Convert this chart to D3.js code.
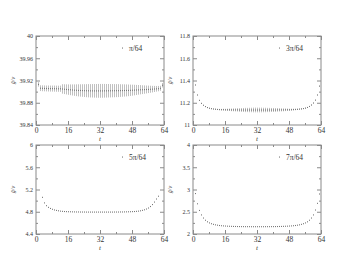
<!DOCTYPE html>
<html>
<head>
<meta charset="utf-8">
<script src="https://cdn.jsdelivr.net/npm/d3@7"></script>
<style>
  body { margin: 0; background: #fff; }
  svg text { font-family: "Liberation Serif", "DejaVu Serif", serif; fill: #333; }
</style>
</head>
<body>
<div id="chart"></div>
<script>
// t values
var tAll = d3.range(1, 64);
var tMid = d3.range(3, 62);

// pi/64 : centre and error (t = 1..63)
var c1 = [39.913, 39.9062, 39.906, 39.9058, 39.9057, 39.9056, 39.9055, 39.9055, 39.9054, 39.9053, 39.9052, 39.9052,
  39.9048, 39.9044, 39.9040, 39.9036, 39.9033, 39.9030, 39.9027, 39.9025, 39.9023, 39.9021, 39.9020, 39.9018,
  39.9017, 39.9016, 39.9015, 39.9015, 39.9014, 39.9014, 39.9014, 39.9014, 39.9014, 39.9015, 39.9015, 39.9016,
  39.9016, 39.9017, 39.9017, 39.9018, 39.9018, 39.9019, 39.9020, 39.9021, 39.9022, 39.9023, 39.9024, 39.9026,
  39.9028, 39.9030, 39.9032, 39.9034, 39.9035, 39.9037, 39.9039, 39.9041, 39.9043, 39.9045, 39.9048, 39.9051,
  39.9054, 39.9060, 39.9115];
var e1 = [0.004, 0.0052, 0.0053, 0.0053, 0.0053, 0.0054, 0.0054, 0.0054, 0.0055, 0.0055, 0.0055, 0.0056,
  0.0085, 0.0088, 0.0091, 0.0094, 0.0097, 0.0100, 0.0103, 0.0106, 0.0109, 0.0111, 0.0113, 0.0115,
  0.0117, 0.0119, 0.0120, 0.0121, 0.0122, 0.0123, 0.0124, 0.0124, 0.0124, 0.0123, 0.0122, 0.0121,
  0.0120, 0.0119, 0.0118, 0.0117, 0.0116, 0.0114, 0.0112, 0.0110, 0.0108, 0.0105, 0.0102, 0.0099,
  0.0095, 0.0091, 0.0087, 0.0083, 0.0079, 0.0075, 0.0071, 0.0067, 0.0063, 0.0059, 0.0055, 0.0051,
  0.0048, 0.0045, 0.004];

// 3pi/64 (t = 1..63)
var v2 = [11.36, 11.27, 11.222, 11.195, 11.178, 11.166, 11.157, 11.151, 11.147, 11.144, 11.142, 11.140,
  11.139, 11.138, 11.138, 11.137, 11.137, 11.137, 11.136, 11.136, 11.136, 11.136, 11.135, 11.135,
  11.135, 11.135, 11.135, 11.135, 11.135, 11.135, 11.135, 11.135, 11.135, 11.135, 11.135, 11.135,
  11.135, 11.135, 11.135, 11.135, 11.135, 11.136, 11.136, 11.136, 11.136, 11.137, 11.137, 11.137,
  11.138, 11.139, 11.140, 11.141, 11.143, 11.145, 11.148, 11.152, 11.158, 11.167, 11.180, 11.198,
  11.224, 11.27, 11.35];
var e2 = [0.002, 0.002, 0.002, 0.002, 0.002, 0.003, 0.003, 0.003, 0.004, 0.004, 0.005, 0.005,
  0.006, 0.007, 0.008, 0.009, 0.010, 0.011, 0.012, 0.013, 0.014, 0.015, 0.016, 0.017,
  0.018, 0.019, 0.019, 0.020, 0.020, 0.021, 0.021, 0.021, 0.021, 0.021, 0.020, 0.020,
  0.019, 0.019, 0.018, 0.018, 0.017, 0.016, 0.015, 0.014, 0.013, 0.012, 0.011, 0.010,
  0.009, 0.008, 0.007, 0.006, 0.005, 0.005, 0.004, 0.004, 0.003, 0.003, 0.003, 0.002,
  0.002, 0.002, 0.002];

// 5pi/64 (t = 3..61)
var v3 = [5.06, 4.96, 4.91, 4.88, 4.86, 4.845, 4.833, 4.825, 4.818, 4.812, 4.808, 4.805, 4.803, 4.801,
  4.800, 4.799, 4.798, 4.797, 4.797, 4.796, 4.796, 4.796, 4.795, 4.795, 4.795, 4.795, 4.795, 4.795,
  4.795, 4.795, 4.795, 4.795, 4.795, 4.795, 4.795, 4.795, 4.796, 4.796, 4.796, 4.797, 4.797, 4.798,
  4.799, 4.800, 4.801, 4.803, 4.805, 4.808, 4.812, 4.818, 4.826, 4.836, 4.85, 4.868, 4.895, 4.93,
  4.975, 5.03, 5.08];

// 7pi/64 (t = 1..63)
var v4 = [2.91, 2.68, 2.53, 2.43, 2.36, 2.31, 2.275, 2.25, 2.232, 2.218, 2.207, 2.199, 2.192, 2.187,
  2.183, 2.180, 2.177, 2.175, 2.173, 2.171, 2.170, 2.169, 2.168, 2.167, 2.167, 2.166, 2.166, 2.166,
  2.165, 2.165, 2.165, 2.165, 2.165, 2.165, 2.165, 2.166, 2.166, 2.166, 2.167, 2.167, 2.168, 2.169,
  2.170, 2.171, 2.173, 2.175, 2.177, 2.180, 2.183, 2.187, 2.192, 2.199, 2.207, 2.218, 2.232, 2.25,
  2.275, 2.31, 2.36, 2.43, 2.54, 2.69, 2.90];

var xTicks = [0, 16, 32, 48, 64];
var xMinor = [8, 24, 40, 56];

var panels = [
  { label: "\u03c0/64", x0: 36, y0: 36, dom: [39.84, 40], ticks: [39.84, 39.88, 39.92, 39.96, 40],
    minor: [39.86, 39.90, 39.94, 39.98], fmt: d3.format(".2f"), t: tAll, v: c1, e: e1 },
  { label: "3\u03c0/64", x0: 193, y0: 36, dom: [11, 11.8], ticks: [11, 11.2, 11.4, 11.6, 11.8],
    minor: [11.1, 11.3, 11.5, 11.7], fmt: d3.format(".1f"), t: tAll, v: v2, e: e2 },
  { label: "5\u03c0/64", x0: 36, y0: 145, dom: [4.4, 6], ticks: [4.4, 4.8, 5.2, 5.6, 6],
    minor: [4.6, 5.0, 5.4, 5.8], fmt: d3.format(".1f"), t: tMid, v: v3 },
  { label: "7\u03c0/64", x0: 193, y0: 145, dom: [2, 4], ticks: [2, 2.5, 3, 3.5, 4],
    minor: [2.25, 2.75, 3.25, 3.75], fmt: d3.format(".1f"), t: tAll, v: v4 }
];

var pw = 128, ph = 89;
var axisColor = "#8a8a8a";
var markColor = "#777";

var svg = d3.select("#chart").append("svg")
  .attr("width", 354)
  .attr("height", 271);

panels.forEach(function (p) {
  var x = d3.scaleLinear().domain([0, 64]).range([0, pw]);
  var y = d3.scaleLinear().domain(p.dom).range([ph, 0]);
  var fmtY = function (d) { var s = p.fmt(d); return s.replace(/\.?0+$/, ""); };

  var g = svg.append("g").attr("transform", `translate(${p.x0},${p.y0})`);

  var data = p.t.map(function (t, i) { return { t: t, v: p.v[i], e: p.e ? p.e[i] : 0 }; });

  // error bars (thin vertical hatches)
  if (p.e) {
    g.selectAll(".bar").data(data).enter().append("line")
      .attr("x1", d => x(d.t) + 0.5).attr("x2", d => x(d.t) + 0.5)
      .attr("y1", d => y(d.v - d.e)).attr("y2", d => y(d.v + d.e))
      .attr("stroke", "#b0b0b0").attr("stroke-width", 0.8);
  }
  // points
  g.selectAll(".pt").data(data).enter().append("rect")
    .attr("x", d => x(d.t)).attr("y", d => y(d.v) - 0.5)
    .attr("width", 1).attr("height", 1.1)
    .attr("fill", markColor);

  // axes: ticks inward on all four sides
  var bottom = g.append("g").attr("transform", `translate(0,${ph})`)
    .call(d3.axisBottom(x).tickValues(xTicks).tickSize(-4).tickSizeOuter(0).tickPadding(3));
  bottom.selectAll("text").style("font-size", "7.5px");
  g.append("g").attr("transform", `translate(0,${ph})`)
    .call(d3.axisBottom(x).tickValues(xMinor).tickSize(-2).tickSizeOuter(0).tickFormat(""));
  g.append("g")
    .call(d3.axisTop(x).tickValues(xTicks).tickSize(-4).tickSizeOuter(0).tickFormat(""));
  g.append("g")
    .call(d3.axisTop(x).tickValues(xMinor).tickSize(-2).tickSizeOuter(0).tickFormat(""));

  var left = g.append("g")
    .call(d3.axisLeft(y).tickValues(p.ticks).tickSize(-4).tickSizeOuter(0).tickPadding(3).tickFormat(fmtY));
  left.selectAll("text").style("font-size", "6px");
  g.append("g")
    .call(d3.axisLeft(y).tickValues(p.minor).tickSize(-2).tickSizeOuter(0).tickFormat(""));
  g.append("g").attr("transform", `translate(${pw},0)`)
    .call(d3.axisRight(y).tickValues(p.ticks).tickSize(-4).tickSizeOuter(0).tickFormat(""));
  g.append("g").attr("transform", `translate(${pw},0)`)
    .call(d3.axisRight(y).tickValues(p.minor).tickSize(-2).tickSizeOuter(0).tickFormat(""));

  g.selectAll(".domain").remove();
  g.selectAll(".tick line").attr("stroke", axisColor);
  g.selectAll(".tick text").attr("font-family", null);

  g.append("rect")
    .attr("width", pw).attr("height", ph)
    .attr("fill", "none").attr("stroke", axisColor).attr("stroke-width", 1);

  // axis titles
  g.append("text")
    .attr("x", pw / 2).attr("y", ph + 16)
    .attr("text-anchor", "middle")
    .style("font-size", "7px").style("font-style", "italic")
    .text("t");
  g.append("text")
    .attr("transform", `translate(${-21},${ph / 2}) rotate(-90)`)
    .attr("text-anchor", "middle")
    .style("font-size", "6px").style("font-style", "italic")
    .text("g\u0303/\u03bd");

  // legend
  g.append("rect")
    .attr("x", 86).attr("y", 11.5).attr("width", 1).attr("height", 1.1)
    .attr("fill", markColor);
  g.append("text")
    .attr("x", 93).attr("y", 14.5)
    .style("font-size", "7.5px")
    .text(p.label);
});
</script>
</body>
</html>
